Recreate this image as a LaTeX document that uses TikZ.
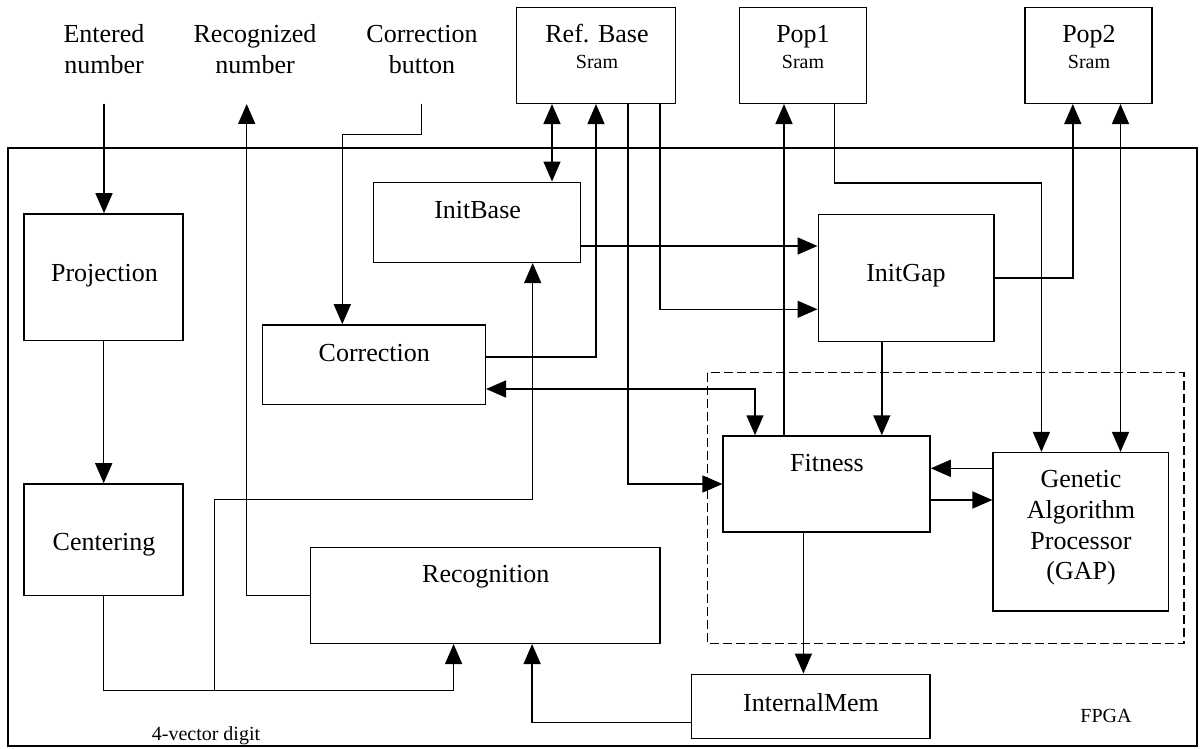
\documentclass[tikz,border=0pt]{standalone}
\usepackage{fontspec}
\setmainfont{Liberation Serif}
\usetikzlibrary{arrows.meta}
\begin{document}
\begin{tikzpicture}[x=1pt,y=-1pt,
  box/.style={draw, line width=1.5pt, inner sep=0pt},
  lbl/.style={inner sep=0pt, anchor=base, font=\fontsize{26}{31}\selectfont},
  small/.style={inner sep=0pt, anchor=base, font=\fontsize{20}{24}\selectfont},
  conn/.style={line width=1.5pt},
  arr/.style={conn, -{Triangle[length=20pt,width=17pt]}},
  dbl/.style={conn, {Triangle[length=20pt,width=17pt]}-{Triangle[length=20pt,width=17pt]}},
  grp/.style={draw, line width=1.5pt, dash pattern=on 9pt off 4pt}
  ]
\useasboundingbox (0,0) rectangle (1200,749);
% outer FPGA box
\node[box, minimum width=1189pt, minimum height=598pt] (fpga) at (602.5,447) {};
% boxes
\node[box, minimum width=159pt, minimum height=96pt] (refbase) at (596,55.3) {};
\node[box, minimum width=127pt, minimum height=96pt] (pop1) at (803,55.3) {};
\node[box, minimum width=127pt, minimum height=96pt] (pop2) at (1088.6,55.3) {};
\node[box, minimum width=207pt, minimum height=80pt] (initbase) at (477,222.3) {};
\node[box, minimum width=159pt, minimum height=126.7pt] (projection) at (103.7,277.3) {};
\node[box, minimum width=175.5pt, minimum height=127pt] (initgap) at (906,277.8) {};
\node[box, minimum width=223pt, minimum height=79.7pt] (correction) at (373.8,364.8) {};
\draw[grp] (707.3,372.5) rectangle (1184,643.3);
\node[box, minimum width=206.8pt, minimum height=96pt] (fitness) at (826.6,484) {};
\node[box, minimum width=175.2pt, minimum height=158.3pt] (gap) at (1080.8,531.8) {};
\node[box, minimum width=159pt, minimum height=111.7pt] (centering) at (103.7,539.8) {};
\node[box, minimum width=349.5pt, minimum height=95.6pt] (recognition) at (485,595.5) {};
\node[box, minimum width=238.5pt, minimum height=64pt] (internalmem) at (810.7,706.3) {};
% texts
\node[lbl] (t1a) at (104,43) {Entered};
\node[lbl] (t1b) at (104,74) {number};
\node[lbl] (t2a) at (255,43) {Recognized};
\node[lbl] (t2b) at (255,74) {number};
\node[lbl] (t3a) at (422,43) {Correction};
\node[lbl] (t3b) at (422,74) {button};
\node[lbl] (trb) at (597,43) {Ref. Base};
\node[small] (trbs) at (597,68.3) {Sram};
\node[lbl] (tp1) at (803,43) {Pop1};
\node[small] (tp1s) at (803,68.3) {Sram};
\node[lbl] (tp2) at (1089,43) {Pop2};
\node[small] (tp2s) at (1089,68.3) {Sram};
\node[lbl] (tib) at (477.6,218.3) {InitBase};
\node[lbl] (tpr) at (104.5,281.7) {Projection};
\node[lbl] (tig) at (906,281.7) {InitGap};
\node[lbl] (tco) at (374.3,361) {Correction};
\node[lbl] (tfi) at (827,471.7) {Fitness};
\node[lbl] (tg1) at (1081,487.7) {Genetic};
\node[lbl] (tg2) at (1081,518.3) {Algorithm};
\node[lbl] (tg3) at (1081,549.3) {Processor};
\node[lbl] (tg4) at (1081,579.3) {(GAP)};
\node[lbl] (tim) at (811,711) {InternalMem};
\node[small] (tfp) at (1106,722.7) {FPGA};
\node[lbl] (tce) at (104,550) {Centering};
\node[lbl] (tre) at (485.7,582.7) {Recognition};
\node[small] (tvd) at (206,740) {4-vector digit};
% free ends
\coordinate (inE) at (104,104);
\coordinate (outR) at (246.7,104);
\coordinate (cb) at (421.7,104);
\coordinate (cbk) at (342.3,134.7);
\coordinate (br) at (214.3,690.7);
\coordinate (brk) at (214.3,499.7);
% connectors
\draw[arr] (inE) -- (inE |- projection.north);
\draw[arr] (projection.south) -- (centering.north);
\draw[arr] (recognition.west) -| (outR);
\draw[arr] (cb) |- (cbk) -- (cbk |- correction.north);
\draw[dbl] ([xshift=-44pt]refbase.south) -- ([xshift=-44pt]refbase.south |- initbase.north);
\draw[arr] ([yshift=7.8pt]correction.east) -| (refbase.south);
\draw[arr] ([yshift=-23.7pt]initbase.east) -- ([yshift=-23.7pt]initbase.east -| initgap.west);
\draw[arr] ([xshift=63.8pt]refbase.south) |- ([yshift=-31.5pt]initgap.west);
\draw[arr] ([xshift=32pt]refbase.south) |- (fitness.west);
\draw[arr] (br) -- (brk) -| ([xshift=55.7pt]initbase.south);
\draw[arr] (centering.south) |- ([xshift=-31.4pt]recognition.south |- br) -- ([xshift=-31.4pt]recognition.south);
\draw[arr] ([yshift=-16.4pt]internalmem.west) -| ([xshift=47.1pt]recognition.south);
\draw[dbl] ([yshift=-24.2pt]correction.east) -| ([xshift=-71.6pt]fitness.north);
\draw[arr] ([xshift=-42.6pt]fitness.north) -- ([xshift=-42.6pt]fitness.north |- pop1.south);
\draw[arr] ([xshift=-24.2pt]initgap.south) -- ([xshift=-24.2pt]initgap.south |- fitness.north);
\draw[arr] ([xshift=31.4pt]pop1.south) -- ++(0,79) -| ([xshift=-39.4pt]gap.north);
\draw[arr] (initgap.east) -| ([xshift=-15.8pt]pop2.south);
\draw[dbl] ([xshift=31.9pt]pop2.south) -- ([xshift=31.9pt]pop2.south |- gap.north);
\draw[arr] ([yshift=63.5pt]gap.west) -- ([yshift=63.5pt]gap.west -| fitness.east);
\draw[arr] ([yshift=-16pt]fitness.east) -- ([yshift=-16pt]fitness.east -| gap.west);
\draw[arr] ([xshift=-23.2pt]fitness.south) -- ([xshift=-23.2pt]fitness.south |- internalmem.north);
\end{tikzpicture}
\end{document}
